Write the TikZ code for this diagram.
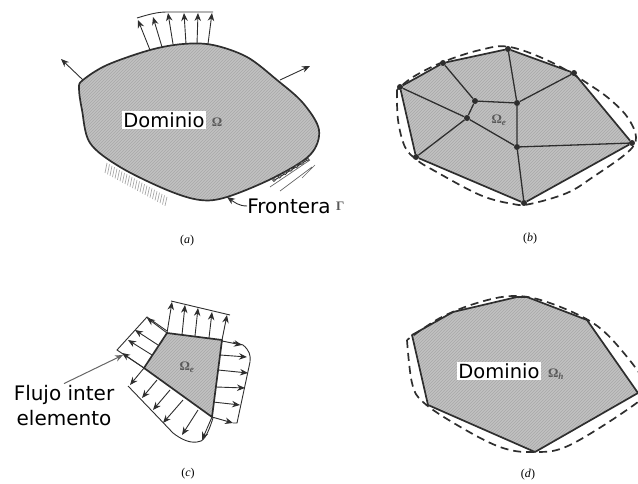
\documentclass[tikz,border=0pt]{standalone}
\usepackage{fontspec}
\newfontfamily\labelfont{DejaVu Sans}
\newfontfamily\symbolfont{Liberation Serif}
\usetikzlibrary{arrows.meta,patterns,positioning}
\definecolor{inkline}{gray}{0.18}
\begin{document}
\begin{tikzpicture}[
  x=1pt, y=-1pt,
  hatchfill/.style={fill=black!24, postaction={pattern=north east lines, pattern color=black!34}},
  outline/.style={draw=inkline, line width=1.7pt, line join=round},
  meshline/.style={draw=inkline, line width=1.3pt},
  dashline/.style={draw=inkline, line width=1.7pt, dash pattern=on 8pt off 5pt},
  dotnode/.style={circle, fill=inkline, inner sep=0pt, minimum size=6pt},
  flux/.style={draw=inkline, line width=0.9pt, -{Stealth[length=8pt, width=6.5pt]}},
  edgeline/.style={draw=inkline, line width=0.9pt},
  whitelabel/.style={fill=white, inner sep=1.5pt, font=\labelfont\fontsize{19.5}{22}\selectfont},
  plainlabel/.style={inner sep=0pt, align=center, font=\labelfont\fontsize{20}{25}\selectfont},
  symbol/.style={inner sep=0pt, text=black!65, font=\symbolfont\bfseries\fontsize{13}{15}\selectfont},
  caption/.style={inner sep=0pt, font=\symbolfont\fontsize{12}{14}\selectfont}
]
\useasboundingbox (0,0) rectangle (638,484);

% (a)
\path[hatchfill] plot[smooth cycle, tension=0.55] coordinates {(83,80) (107,65) (150,50) (183,44) (213,45) (247,57) (277,80) (303,103) (319,130) (310,155) (273,178) (227,197) (200,200) (167,190) (120,167) (90,143) (82,110) (79,88)};
\draw[outline] plot[smooth cycle, tension=0.55] coordinates {(83,80) (107,65) (150,50) (183,44) (213,45) (247,57) (277,80) (303,103) (319,130) (310,155) (273,178) (227,197) (200,200) (167,190) (120,167) (90,143) (82,110) (79,88)};
\foreach \bx/\by/\tx/\ty in {150/50/138/20, 162/47/153/17, 173/44/168/13, 186/44/184/13, 197/44/198/13, 208/44/212/13, 83/80/61/59, 280/80/310/66}
  \draw[flux] (\bx,\by) -- (\tx,\ty);
\draw[edgeline] (137,18) .. controls (150,14) and (158,12) .. (167,12) -- (213,12);
\foreach \t in {0,...,24}
  \draw[black!35, line width=0.7pt] ({107+2.5*\t},{163+1.41*\t}) -- ({105+2.5*\t},{173+1.37*\t});
\draw[inkline, line width=1pt] (273,181) -- (309,159);
\foreach \t in {0,...,6}
  \draw[inkline, line width=0.5pt, fill=black!30] ({274+5.6*\t},{180-3.4*\t}) circle (1.6pt);
\draw[black!60, line width=0.7pt] (270,187) -- (310,160) (280,191) -- (312,167) (302,178) -- (315,165);
\node[whitelabel] (domA) at (164,120) {Dominio};
\node[symbol] (omegaA) at (217,122) {Ω};
\node[plainlabel] (fronteraA) at (289,206) {Frontera};
\node[symbol, right=5pt of fronteraA] (gammaA) {Γ};
\coordinate (fronteraTip) at (227,197);
\draw[flux] (fronteraA.west) to[out=180, in=-35] (fronteraTip);
\node[caption] (capA) at (187,241) {(\textit{a})};

% (b)
\path[hatchfill] (400,87) -- (443,63) -- (508,49) -- (574,73) -- (632,143) -- (524,203) -- (416,157) -- cycle;
\draw[dashline] plot[smooth, tension=0.6] coordinates {(397,90) (398,120) (405,147) (417,160) (433,170) (480,195) (513,204) (530,204) (567,193) (593,177) (628,152) (636,137) (628,118) (613,102) (593,87) (553,63) (510,47) (480,50) (443,62) (413,77) (397,90)};
\foreach \name/\px/\py in {na/400/87, nb/443/63, nc/508/49, nd/574/73, ne/632/143, nf/524/203, ng/416/157, nh/475/101, ni/517/103, nj/467/118, nk/517/147}
  \node[dotnode] (\name) at (\px,\py) {};
\draw[outline] (na) -- (nb) -- (nc) -- (nd) -- (ne) -- (nf) -- (ng) -- (na);
\draw[meshline] (nb) -- (nh) -- (ni) -- (nc) (ni) -- (nd) (ni) -- (nk) (nh) -- (nj) (na) -- (nj) -- (nk) (nj) -- (ng) (nk) -- (ne) (nk) -- (nf);
\node[symbol] (omegaB) at (499,120) {Ω\textsubscript{\textit{e}}};
\node[caption] (capB) at (530,239) {(\textit{b})};

% (c)
\path[hatchfill] (167,333) -- (222,340) -- (212,417) -- (144,368) -- cycle;
\draw[outline] (167,333) -- (222,340) -- (212,417) -- (144,368) -- cycle;
\foreach \bx/\by/\tx/\ty in {167/333/172/302, 182/335/185/305, 195/336/198/308, 209/338/212/312, 222/340/227/315,
  222/341/242/345, 220/355/247/357, 218/370/248/373, 216/387/245/388, 213/402/240/405, 212/417/233/423,
  212/417/202/440, 198/410/182/435, 183/400/163/423, 170/390/153/410, 157/380/142/398, 144/368/130/385,
  167/333/147/318, 158/345/135/330, 152/355/128/340, 144/368/122/353}
  \draw[flux] (\bx,\by) -- (\tx,\ty);
\draw[edgeline] (171,301) -- (230,315);
\draw[edgeline] (233,342) -- (243,345) .. controls (249,350) and (251,355) .. (250,362) -- (237,423) -- (233,423);
\draw[edgeline] (128,386) -- (153,412) -- (173,433) .. controls (182,440) and (190,443) .. (197,442) .. controls (203,442) and (207,437) .. (213,418);
\draw[edgeline] (167,331) -- (147,317) -- (117,350) -- (144,368);
\node[symbol] (omegaC) at (187,367) {Ω\textsubscript{\textit{e}}};
\node[plainlabel] (flujo) at (64,406) {Flujo inter\\elemento};
\coordinate (flujoTip) at (123,355);
\draw[draw=black!60, line width=1pt, -{Stealth[length=8pt, width=6.5pt]}] (flujo.north) ++(0,-2) -- (flujoTip);
\node[caption] (capC) at (188,474) {(\textit{c})};

% (d)
\path[hatchfill] (412,335) -- (453,312) -- (517,297) -- (527,297) -- (587,320) -- (638,393) -- (535,452) -- (428,405) -- cycle;
\draw[outline] (412,335) -- (453,312) -- (517,297) -- (527,297) -- (587,320) -- (638,393) -- (535,452) -- (428,405) -- cycle;
\draw[dashline] plot[smooth, tension=0.6] coordinates {(407,340) (412,383) (423,402) (457,425) (500,447) (533,452) (570,445) (638,402) (647,387) (623,352) (593,323) (547,302) (513,296) (477,303) (440,318) (407,340)};
\node[whitelabel] (domD) at (499,371) {Dominio};
\node[symbol] (omegaD) at (556,374) {Ω\textsubscript{\textit{h}}};
\node[caption] (capD) at (528,475) {(\textit{d})};
\end{tikzpicture}
\end{document}
